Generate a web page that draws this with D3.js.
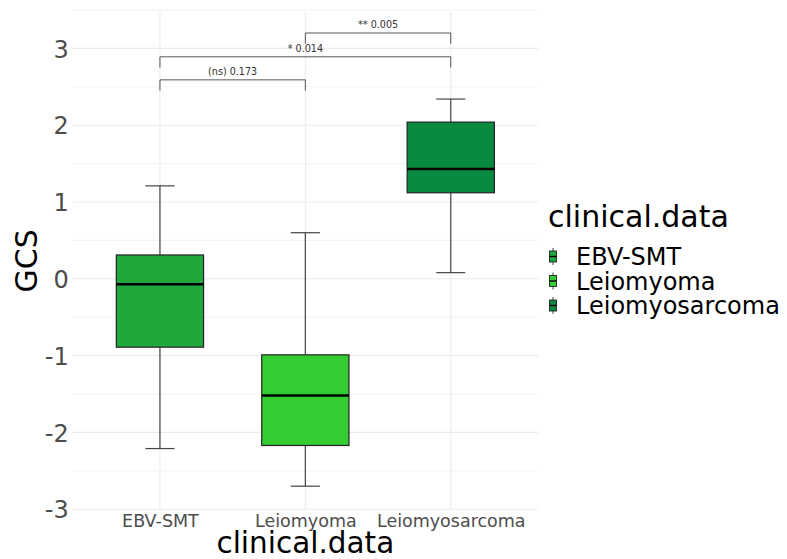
<!DOCTYPE html>
<html>
<head>
<meta charset="utf-8">
<script src="https://cdn.jsdelivr.net/npm/d3@7"></script>
<style>
body{margin:0;background:#fff;}
svg{display:block;font-family:"DejaVu Sans",sans-serif;}
</style>
</head>
<body>
<svg id="chart" width="787" height="559"></svg>
<script>
const categories = ["EBV-SMT", "Leiomyoma", "Leiomyosarcoma"];
const colors = ["#1fa83b", "#33cc33", "#088a41"];
const whiskerLow = [-2.21, -2.70, 0.08];
const q1 = [-0.89, -2.17, 1.12];
const median = [-0.07, -1.52, 1.43];
const q3 = [0.31, -0.99, 2.04];
const whiskerHigh = [1.21, 0.60, 2.34];
const yTicks = [-3, -2, -1, 0, 1, 2, 3];
const yMinor = [-2.5, -1.5, -0.5, 0.5, 1.5, 2.5, 3.5];
const cmpFrom = ["EBV-SMT", "EBV-SMT", "Leiomyoma"];
const cmpTo = ["Leiomyoma", "Leiomyosarcoma", "Leiomyosarcoma"];
const cmpLabel = ["(ns) 0.173", "* 0.014", "** 0.005"];
const cmpY = [2.59, 2.89, 3.20];
const cmpTip = [2.45, 2.75, 3.06];

(function () {
const svg = d3.select("#chart");
const pLeft = 72.7, pRight = 538, pTop = 11.5, pBottom = 510;

const x = d3.scalePoint().domain(categories).range([pLeft, pRight]).padding(0.6);
const step = x.step();
const y = d3.scaleLinear().domain([-3.01, 3.48]).range([pBottom, pTop]);

// grid
const g = svg.append("g");
g.selectAll(".minor").data(yMinor).enter().append("line")
  .attr("x1", pLeft).attr("x2", pRight)
  .attr("y1", d => y(d)).attr("y2", d => y(d))
  .attr("stroke", "#f0f0f0").attr("stroke-width", 0.8);
g.selectAll(".major").data(yTicks).enter().append("line")
  .attr("x1", pLeft).attr("x2", pRight)
  .attr("y1", d => y(d)).attr("y2", d => y(d))
  .attr("stroke", "#ebebeb").attr("stroke-width", 1.1);
g.selectAll(".vmajor").data(categories).enter().append("line")
  .attr("x1", d => x(d)).attr("x2", d => x(d))
  .attr("y1", pTop).attr("y2", pBottom)
  .attr("stroke", "#ebebeb").attr("stroke-width", 1.1);

// y axis labels
const yAxis = d3.axisLeft(y).tickValues(yTicks).tickSize(0).tickPadding(4).tickFormat(d => String(d));
const ya = svg.append("g").attr("transform", `translate(${pLeft},0)`).call(yAxis);
ya.select(".domain").remove();
ya.selectAll("text").attr("font-size", 24).attr("fill", "#4d4d4d")
  .attr("font-family", "DejaVu Sans").attr("dy", "0.36em");

// x axis labels
const xAxis = d3.axisBottom(x).tickSize(0).tickPadding(3);
const xa = svg.append("g").attr("transform", `translate(0,${pBottom})`).call(xAxis);
xa.select(".domain").remove();
xa.selectAll("text").attr("font-size", 17.5).attr("fill", "#4d4d4d")
  .attr("font-family", "DejaVu Sans").attr("dy", "0.78em");

// boxes
const idx = d3.range(categories.length);
const bw = step * 0.6, cw = step * 0.2;
const boxes = svg.append("g");
idx.forEach(i => {
  const cx = x(categories[i]);
  boxes.append("line").attr("x1", cx).attr("x2", cx)
    .attr("y1", y(whiskerHigh[i])).attr("y2", y(q3[i]))
    .attr("stroke", "#444").attr("stroke-width", 1.2);
  boxes.append("line").attr("x1", cx).attr("x2", cx)
    .attr("y1", y(q1[i])).attr("y2", y(whiskerLow[i]))
    .attr("stroke", "#444").attr("stroke-width", 1.2);
  [whiskerHigh[i], whiskerLow[i]].forEach(v => {
    boxes.append("line").attr("x1", cx - cw / 2).attr("x2", cx + cw / 2)
      .attr("y1", y(v)).attr("y2", y(v))
      .attr("stroke", "#444").attr("stroke-width", 1.2);
  });
  boxes.append("rect").attr("x", cx - bw / 2).attr("width", bw)
    .attr("y", y(q3[i])).attr("height", y(q1[i]) - y(q3[i]))
    .attr("fill", colors[i]).attr("stroke", "#222").attr("stroke-width", 1.2);
  boxes.append("line").attr("x1", cx - bw / 2).attr("x2", cx + bw / 2)
    .attr("y1", y(median[i])).attr("y2", y(median[i]))
    .attr("stroke", "#000").attr("stroke-width", 2.6);
});

// comparison brackets
const br = svg.append("g");
cmpLabel.forEach((lab, i) => {
  const x1 = x(cmpFrom[i]), x2 = x(cmpTo[i]);
  br.append("path")
    .attr("d", `M${x1},${y(cmpTip[i])}V${y(cmpY[i])}H${x2}V${y(cmpTip[i])}`)
    .attr("fill", "none").attr("stroke", "#555").attr("stroke-width", 1);
  br.append("text").attr("x", (x1 + x2) / 2).attr("y", y(cmpY[i]) - 5)
    .attr("text-anchor", "middle").attr("font-size", 9.6).attr("fill", "#333")
    .text(lab);
});

// axis titles
svg.append("text").attr("x", (pLeft + pRight) / 2).attr("y", 553)
  .attr("text-anchor", "middle").attr("font-size", 29.5).attr("fill", "#000")
  .text("clinical.data");
svg.append("text").attr("transform", `translate(37,${(pTop + pBottom) / 2}) rotate(-90)`)
  .attr("text-anchor", "middle").attr("font-size", 30).attr("fill", "#000")
  .text("GCS");

// legend
const lg = svg.append("g");
lg.append("text").attr("x", 548).attr("y", 227).attr("font-size", 30).attr("fill", "#000")
  .text("clinical.data");
idx.forEach(i => {
  const base = 265 + i * 24.5;
  const cy = base - 8.5, kx = 553;
  lg.append("line").attr("x1", kx).attr("x2", kx).attr("y1", cy - 8.5).attr("y2", cy + 8.5)
    .attr("stroke", "#444").attr("stroke-width", 1);
  lg.append("rect").attr("x", kx - 3.5).attr("y", cy - 5.5).attr("width", 7).attr("height", 11)
    .attr("fill", colors[i]).attr("stroke", "#222").attr("stroke-width", 0.9);
  lg.append("line").attr("x1", kx - 3.5).attr("x2", kx + 3.5).attr("y1", cy).attr("y2", cy)
    .attr("stroke", "#000").attr("stroke-width", 1.4);
  lg.append("text").attr("x", 576).attr("y", base).attr("font-size", 24).attr("fill", "#000")
    .text(categories[i]);
});
})();
</script>
</body>
</html>
